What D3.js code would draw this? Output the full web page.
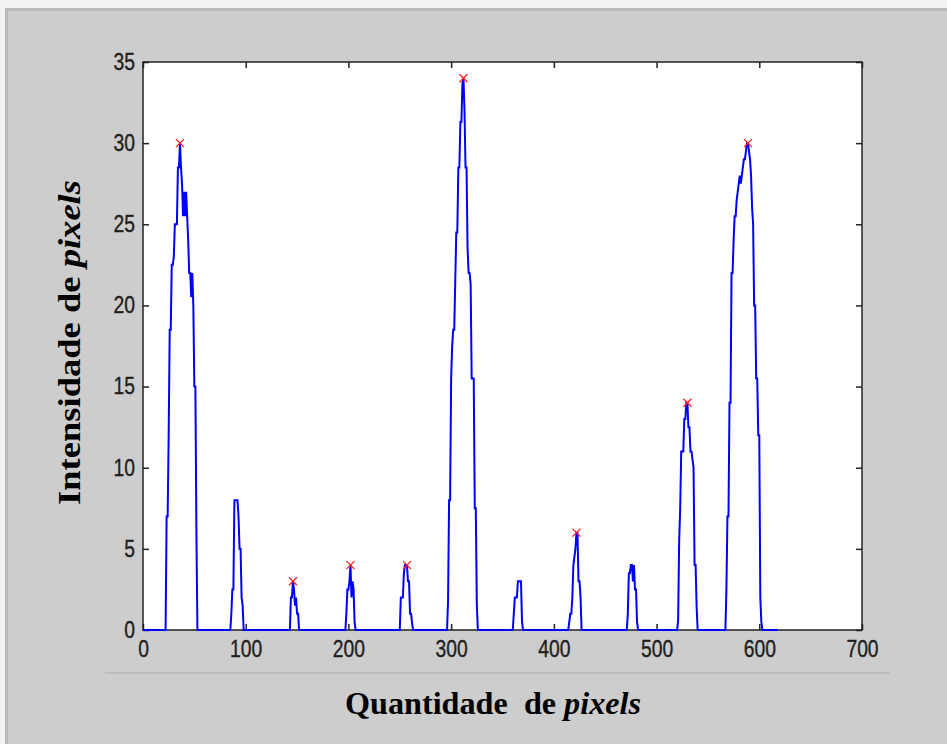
<!DOCTYPE html>
<html>
<head>
<meta charset="utf-8">
<script src="https://cdn.jsdelivr.net/npm/d3@7"></script>
<style>
  html, body { margin: 0; padding: 0; background: #f0f0f0; }
  svg { display: block; }
</style>
</head>
<body>
<svg id="chart" width="947" height="744"></svg>
<script>
// ---- data ----
const xTicks = [0, 100, 200, 300, 400, 500, 600, 700];
const yTicks = [0, 5, 10, 15, 20, 25, 30, 35];
const xDomain = [0, 700];
const yDomain = [0, 35];
const signalEnd = 618;

// each peak: first sample x, then consecutive sample values (one per pixel index)
const peakStarts = [22, 85, 143, 197, 250, 296, 360, 414, 471, 520, 567];
const peak1  = [0, 7, 7, 12, 18.5, 18.5, 22.5, 22.5, 23, 25, 25, 25, 28.5, 28.5, 30, 28.5, 27.5, 25.5, 27, 25.5, 27, 25.5, 24, 22, 22, 20.5, 22, 20, 15, 15, 6, 0];
const peak2  = [0, 1, 2.5, 2.5, 8, 8, 8, 8, 7, 5, 5, 2, 1.5, 0];
const peak3  = [0, 2, 2, 3, 2.5, 1.5, 2, 1, 1, 0];
const peak4  = [0, 1, 2.5, 2.5, 3, 4, 2, 3, 2.5, 0.5, 0];
const peak5  = [0, 2, 2, 2, 3.5, 4, 4, 4, 3, 3, 1, 1, 0.4, 0];
const peak6  = [0, 1.8, 8, 8, 15.5, 17.5, 18.5, 18.5, 21.5, 24.5, 24.5, 28.5, 28.5, 31.3, 31.3, 33.7, 34, 32, 28.5, 28.5, 23.5, 22, 22, 21.3, 15.5, 15.5, 15.5, 7.5, 7.5, 1.6, 0];
const peak7  = [0, 1, 2, 2, 2, 3, 3, 3, 3, 0.5, 0];
const peak8  = [0, 0.5, 1, 1, 2, 4, 4.5, 5, 6, 6, 3, 3, 2, 0];
const peak9  = [0, 1, 3.5, 3.5, 4, 4, 3, 4, 2.5, 2.5, 0.5, 0];
const peak10 = [0, 0.6, 5.5, 7.5, 11, 11, 11, 13, 13, 14, 14, 12.5, 12.5, 11, 11, 10.5, 10, 4, 4, 1.4, 0];
const peak11 = [0, 2.5, 7, 7, 14, 14, 22, 22, 24, 25.5, 25.5, 26.5, 27, 27.5, 28, 27.5, 28, 28.5, 29, 29, 29.5, 30, 30, 29.5, 29, 28, 26, 25, 20, 20, 15.5, 15.5, 12, 12, 2, 0.5, 0];

// detected peaks (red x markers)
const markerX = [36, 146, 202, 257, 312, 422, 530, 589];
const markerY = [30, 3, 4, 4, 34, 6, 14, 30];

const xLabel = "Quantidade  de ";
const xLabelItalic = "pixels";
const yLabel = "Intensidade de ";
const yLabelItalic = "pixels";

// ---- build series ----
const peaks = [peak1, peak2, peak3, peak4, peak5, peak6, peak7, peak8, peak9, peak10, peak11];
const series = [[0, 0]];
peaks.forEach((vals, i) => {
  vals.forEach((v, j) => series.push([peakStarts[i] + j, v]));
});
series.push([signalEnd, 0]);

// ---- drawing ----
const svg = d3.select("#chart");
const W = 947, H = 744;
const plot = { left: 143, right: 862, top: 62, bottom: 630 };

// background frame
svg.append("rect").attr("x", 0).attr("y", 0).attr("width", W).attr("height", H).attr("fill", "#f2f2f2");
svg.append("rect").attr("x", 5).attr("y", 8).attr("width", W - 5).attr("height", H - 8).attr("fill", "#b9b9b9");
svg.append("rect").attr("x", 8).attr("y", 11).attr("width", W - 8).attr("height", H - 11).attr("fill", "#cdcdcd");
// separator line
svg.append("line").attr("x1", 105).attr("x2", 890).attr("y1", 673).attr("y2", 673)
  .attr("stroke", "#bdbdbd").attr("stroke-width", 2);

const x = d3.scaleLinear().domain(xDomain).range([plot.left, plot.right]);
const y = d3.scaleLinear().domain(yDomain).range([plot.bottom, plot.top]);

// plot area
svg.append("rect")
  .attr("x", plot.left).attr("y", plot.top)
  .attr("width", plot.right - plot.left).attr("height", plot.bottom - plot.top)
  .attr("fill", "#ffffff");

const tickLen = 6;
const tickFont = "'Liberation Sans', Arial, sans-serif";
const squeeze = 0.84;

// bottom axis (ticks inward)
const xAxis = d3.axisBottom(x).tickValues(xTicks).tickSize(-tickLen).tickPadding(11).tickFormat(d3.format("d"));
const gx = svg.append("g").attr("transform", `translate(0,${plot.bottom})`).call(xAxis);
// top axis ticks
const gxt = svg.append("g").attr("transform", `translate(0,${plot.top})`)
  .call(d3.axisTop(x).tickValues(xTicks).tickSize(-tickLen).tickFormat(""));
// left axis
const yAxis = d3.axisLeft(y).tickValues(yTicks).tickSize(-tickLen).tickPadding(8).tickFormat(d3.format("d"));
const gy = svg.append("g").attr("transform", `translate(${plot.left},0)`).call(yAxis);
// right axis ticks
const gyr = svg.append("g").attr("transform", `translate(${plot.right},0)`)
  .call(d3.axisRight(y).tickValues(yTicks).tickSize(-tickLen).tickFormat(""));

[gx, gxt, gy, gyr].forEach(g => {
  g.attr("font-size", null).attr("font-family", null);
  g.select(".domain").remove();
  g.selectAll(".tick line").attr("stroke", "#222").attr("stroke-width", 1.5);
  g.selectAll("text")
    .style("font-family", tickFont).style("font-size", "23px")
    .attr("fill", "#1e1e1e").attr("stroke", "#1e1e1e").attr("stroke-width", 0.35);
});
// condensed look of tick labels
gx.selectAll(".tick text").attr("transform", `scale(${squeeze},1)`);
gy.selectAll(".tick text").each(function () {
  const t = d3.select(this);
  const tx = +t.attr("x");
  t.attr("x", 0).attr("transform", `translate(${tx},0) scale(${squeeze},1)`);
});

// box
svg.append("rect")
  .attr("x", plot.left).attr("y", plot.top)
  .attr("width", plot.right - plot.left).attr("height", plot.bottom - plot.top)
  .attr("fill", "none").attr("stroke", "#222").attr("stroke-width", 1.5);

// signal line
const line = d3.line().x(d => x(d[0])).y(d => y(d[1]));
svg.append("path").datum(series)
  .attr("d", line)
  .attr("fill", "none")
  .attr("stroke", "#0000ff")
  .attr("stroke-width", 2)
  .attr("stroke-linejoin", "miter");

// red x markers
const ms = 4;
const mk = svg.append("g").selectAll("g").data(markerX.map((v, i) => [v, markerY[i]])).join("g")
  .attr("transform", d => `translate(${x(d[0])},${y(d[1])})`);
mk.append("line").attr("x1", -ms).attr("y1", -ms).attr("x2", ms).attr("y2", ms)
  .attr("stroke", "#ff2020").attr("stroke-width", 1.3);
mk.append("line").attr("x1", -ms).attr("y1", ms).attr("x2", ms).attr("y2", -ms)
  .attr("stroke", "#ff2020").attr("stroke-width", 1.3);

// axis titles
const titleFont = "'Liberation Serif', 'Times New Roman', serif";
const xt = svg.append("text")
  .attr("x", 345).attr("y", 714)
  .attr("text-anchor", "start")
  .attr("font-family", titleFont).attr("font-size", 32).attr("font-weight", "bold")
  .attr("fill", "#000")
  .attr("textLength", 296).attr("lengthAdjust", "spacingAndGlyphs")
  .style("white-space", "pre");
xt.append("tspan").text(xLabel);
xt.append("tspan").attr("font-style", "italic").text(xLabelItalic);

const yt = svg.append("text")
  .attr("transform", `translate(80,505) rotate(-90)`)
  .attr("text-anchor", "start")
  .attr("font-family", titleFont).attr("font-size", 32).attr("font-weight", "bold")
  .attr("fill", "#000")
  .attr("textLength", 325).attr("lengthAdjust", "spacingAndGlyphs");
yt.append("tspan").text(yLabel);
yt.append("tspan").attr("font-style", "italic").text(yLabelItalic);
</script>
</body>
</html>
